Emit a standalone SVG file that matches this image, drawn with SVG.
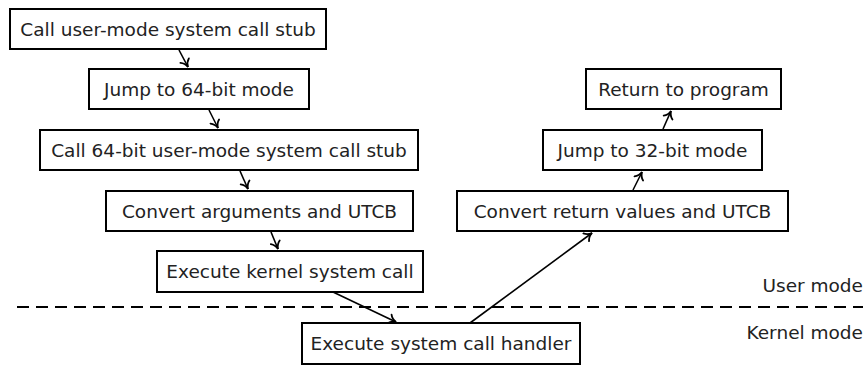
<svg xmlns="http://www.w3.org/2000/svg" width="867" height="369" viewBox="0 0 867 369">
<style>
.box{fill:#fff;stroke:#000;stroke-width:2}
.lbl{font-family:"DejaVu Sans",sans-serif;font-size:18.5px;fill:#222;text-anchor:middle}
.side{font-family:"DejaVu Sans",sans-serif;font-size:18.5px;fill:#222;text-anchor:end}
.conn{fill:none;stroke:#000;stroke-width:1.6;marker-end:url(#arr)}
.sep{fill:none;stroke:#000;stroke-width:2;stroke-dasharray:12 7}
</style>
<defs>
<marker id="arr" markerUnits="userSpaceOnUse" markerWidth="12" markerHeight="12" viewBox="-7 -5 8 10" refX="0" refY="0" orient="auto">
<path d="M-6,-4 C-4.5,-1.6 -2,-0.4 0,0 C-2,0.4 -4.5,1.6 -6,4" fill="none" stroke="#000" stroke-width="1.5" stroke-linecap="round"/>
</marker>
</defs>
<rect width="867" height="369" fill="#fff"/>
<g id="separator">
<line class="sep" x1="17" y1="307" x2="863" y2="307"/>
<text class="side" x="863" y="292">User mode</text>
<text class="side" x="863" y="339">Kernel mode</text>
</g>
<g id="connectors">
<line class="conn" x1="179" y1="50" x2="188" y2="67"/>
<line class="conn" x1="209" y1="110" x2="218" y2="128"/>
<line class="conn" x1="240" y1="171" x2="248" y2="189"/>
<line class="conn" x1="271" y1="232" x2="278" y2="249"/>
<line class="conn" x1="333" y1="292" x2="396" y2="322"/>
<line class="conn" x1="470" y1="323" x2="592" y2="233"/>
<line class="conn" x1="633" y1="190" x2="642" y2="172"/>
<line class="conn" x1="663" y1="129" x2="671" y2="111"/>
</g>
<g id="n1"><rect class="box" x="10" y="9" width="316" height="40"/><text class="lbl" x="168" y="36">Call user-mode system call stub</text></g>
<g id="n2"><rect class="box" x="89" y="69" width="220" height="40"/><text class="lbl" x="199" y="96">Jump to 64-bit mode</text></g>
<g id="n3"><rect class="box" x="40" y="130" width="378" height="40"/><text class="lbl" x="229" y="157">Call 64-bit user-mode system call stub</text></g>
<g id="n4"><rect class="box" x="106" y="191" width="307" height="40"/><text class="lbl" x="259.5" y="218">Convert arguments and UTCB</text></g>
<g id="n5"><rect class="box" x="157" y="251" width="266" height="41"/><text class="lbl" x="290" y="278">Execute kernel system call</text></g>
<g id="n6"><rect class="box" x="302" y="323" width="278" height="41"/><text class="lbl" x="441" y="350">Execute system call handler</text></g>
<g id="n7"><rect class="box" x="457" y="191" width="331" height="40"/><text class="lbl" x="622.5" y="218">Convert return values and UTCB</text></g>
<g id="n8"><rect class="box" x="543" y="130" width="219" height="40"/><text class="lbl" x="652.5" y="157">Jump to 32-bit mode</text></g>
<g id="n9"><rect class="box" x="586" y="69" width="195" height="40"/><text class="lbl" x="683.5" y="96">Return to program</text></g>
</svg>
